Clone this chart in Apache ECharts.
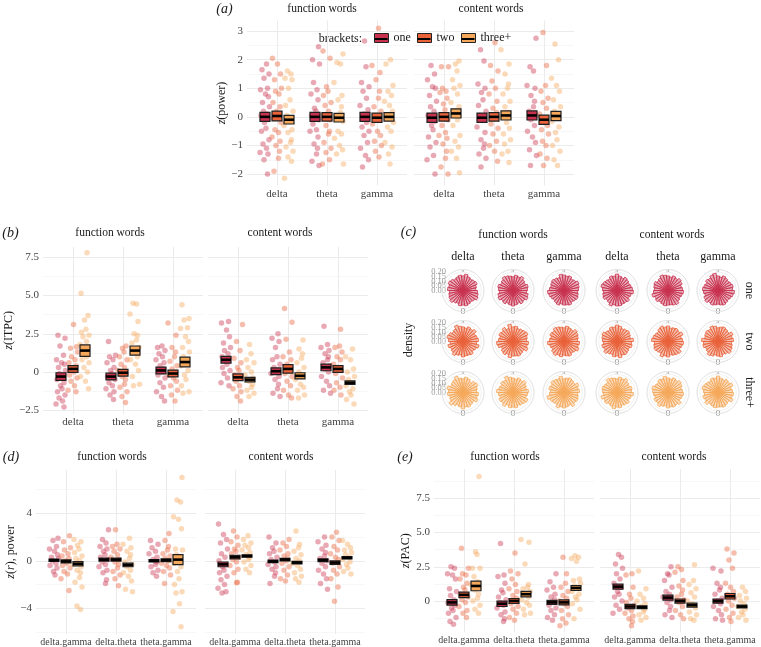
<!DOCTYPE html>
<html><head><meta charset="utf-8">
<script src="https://cdn.jsdelivr.net/npm/echarts@6/dist/echarts.min.js"></script>
<style>html,body{margin:0;padding:0;background:#fff}#c{width:761px;height:647px}</style>
</head><body><div id="c"></div>
<script>
// ---------- categories / labels ----------
const BRACKETS = ['one','two','three+'];
const BAND_CATS = ['delta','theta','gamma'];
const PAIR_CATS = ['delta.gamma','delta.theta','theta.gamma'];
const FACETS = ['function words','content words'];
const CAT_POS = [1,2,3];
const A_YTICKS=[-2,-1,0,1,2,3], A_YMINOR=[-1.5,-0.5,0.5,1.5,2.5];
const B_YTICKS=[-2.5,0,2.5,5,7.5], B_YMINOR=[-1.25,1.25,3.75,6.25];
const D_YTICKS=[-4,0,4], D_YMINOR=[-6,-2,2,6];
const E_YTICKS=[0,2.5,5,7.5], E_YMINOR=[-1.25,1.25,3.75,6.25,8.75];
const C_RTICKS=[0,0.05,0.1,0.15,0.2];

// ---------- (a) z(power) : per bracket, [delta, theta, gamma] ----------
const A_FUNC_ONE=[[1.85,1.65,1.5,1.35,1.0,0.95,0.8,0.7,0.5,0.35,0.2,0.1,0.05,-0.05,-0.2,-0.4,-0.5,-0.8,-0.95,-1.1,-1.25,-1.3,-1.5,-2.0],[2.45,2.0,1.85,1.2,0.95,0.8,0.6,0.3,0.2,0.05,-0.1,-0.25,-0.45,-0.5,-0.7,-0.95,-1.1,-1.3,-1.55,-1.7],[2.65,1.75,1.2,1.05,0.9,0.65,0.4,0.25,0.1,-0.05,-0.2,-0.35,-0.5,-0.65,-0.9,-1.1,-1.35,-1.5,-1.75]];
const A_FUNC_TWO=[[2.05,1.85,1.5,1.3,1.0,0.9,0.8,0.5,0.35,0.2,0.05,-0.05,-0.2,-0.45,-0.55,-0.7,-0.85,-1.0,-1.2,-1.45,-1.9],[2.3,2.05,1.05,0.9,0.75,0.5,0.4,0.2,0.05,-0.1,-0.3,-0.5,-0.6,-0.9,-1.1,-1.25,-1.5,-1.65],[3.1,1.8,1.55,1.3,0.9,0.65,0.35,0.2,0.05,-0.1,-0.25,-0.5,-0.65,-0.85,-1.0,-1.2,-1.4]];
const A_FUNC_THREE=[[1.6,1.5,1.35,1.3,1.0,0.6,0.4,0.2,0.05,-0.1,-0.3,-0.45,-0.55,-0.8,-0.9,-1.05,-1.2,-1.4,-1.55,-2.15],[2.2,1.9,1.85,1.2,0.75,0.6,0.35,0.15,0,-0.15,-0.5,-0.6,-0.75,-1.0,-1.15,-1.3,-1.65],[2.0,1.85,1.1,0.9,0.75,0.55,0.4,0.2,0,-0.2,-0.35,-0.5,-0.9,-1.05,-1.3,-1.65]];
const A_FUNC_MEAN=[[0,0,0],[0.03,0,-0.03],[-0.1,-0.03,0]];
const A_FUNC_SE=[[0.16,0.16,0.16],[0.17,0.15,0.16],[0.15,0.15,0.15]];
const A_CONT_ONE=[[1.8,1.5,1.3,1.05,1.0,0.75,0.55,0.35,0.2,0.05,-0.15,-0.3,-0.45,-0.7,-0.9,-1.05,-1.35,-1.5,-2.0],[2.35,1.95,1.15,1.0,0.85,0.6,0.4,0.2,0.05,-0.1,-0.35,-0.55,-0.8,-0.95,-1.1,-1.3,-1.45,-1.75],[2.75,1.75,1.6,1.1,1.0,0.75,0.55,0.35,0.2,0.05,-0.1,-0.3,-0.5,-0.7,-0.9,-1.15,-1.35,-1.7]];
const A_CONT_TWO=[[1.75,1.75,1.0,0.9,0.85,0.65,0.45,0.25,0.05,-0.1,-0.3,-0.55,-0.65,-0.75,-0.95,-1.2,-1.45,-1.75,-2.0],[2.6,1.8,1.6,1.25,1.0,0.8,0.55,0.3,0.15,-0.05,-0.25,-0.4,-0.6,-0.85,-1.0,-1.2,-1.55],[2.95,1.8,1.1,0.9,0.65,0.5,0.3,0.1,-0.1,-0.3,-0.45,-0.6,-0.85,-1.0,-1.3,-1.45,-1.7]];
const A_CONT_THREE=[[1.95,1.85,1.6,1.3,1.1,1.0,0.8,0.5,0.35,0.2,0.05,-0.1,-0.3,-0.65,-0.85,-1.05,-1.2,-1.45,-1.95],[2.35,1.85,1.5,1.15,1.0,0.8,0.55,0.35,0.15,0,-0.2,-0.4,-0.6,-0.8,-0.95,-1.2,-1.3,-1.6],[2.55,2.0,1.35,1.1,0.9,0.6,0.35,0.2,0.05,-0.15,-0.35,-0.55,-0.8,-1.0,-1.2,-1.5,-1.7]];
const A_CONT_MEAN=[[-0.03,-0.03,0.05],[0,0,-0.1],[0.12,0.05,0.03]];
const A_CONT_SE=[[0.16,0.16,0.16],[0.15,0.15,0.16],[0.16,0.16,0.16]];

// ---------- (b) z(ITPC) ----------
const B_FUNC_ONE=[[2.4,2.2,1.7,1.1,0.8,0.6,0.5,0.3,0.1,-0.1,-0.3,-0.5,-0.7,-0.9,-1.1,-1.3,-1.5,-1.7,-1.9,-2.1,-2.3],[2.0,1.1,1.0,0.8,0.6,0.3,0.1,-0.1,-0.3,-0.5,-0.7,-0.9,-1.1,-1.3,-1.5,-1.8],[1.7,1.6,1.4,1.2,1.0,0.8,0.6,0.4,0.2,0,-0.2,-0.4,-0.7,-1.0,-1.3,-1.6,-1.9]];
const B_FUNC_TWO=[[3.1,1.65,1.55,1.3,1.0,0.8,0.6,0.4,0.2,0,-0.2,-0.4,-0.6,-0.9,-1.2,-1.3],[1.7,1.55,1.3,1.0,0.8,0.5,0.3,0.1,-0.1,-0.3,-0.5,-0.8,-1.0,-1.3,-1.6,-2.0],[3.2,2.4,1.6,1.3,1.0,0.7,0.4,0.2,0,-0.2,-0.4,-0.6,-0.9,-1.2,-1.5,-1.9]];
const B_FUNC_THREE=[[7.8,5.15,3.7,3.4,2.8,2.6,2.4,2.3,2.0,1.8,1.6,1.4,1.2,1.0,0.8,0.6,0.3,0,-0.3,-0.6,-1.1],[4.5,4.45,3.8,3.3,2.5,2.4,2.1,1.9,1.6,1.3,1.0,0.8,0.5,0.1,-0.3,-0.8,-0.9],[4.4,3.5,3.4,2.9,2.85,2.3,2.0,1.6,1.3,1.0,0.7,0.4,0.1,-0.2,-0.5,-0.9,-1.3,-1.4]];
const B_FUNC_MEAN=[[-0.3,-0.3,0.1],[0.2,-0.05,-0.1],[1.4,1.4,0.65]];
const B_FUNC_SE=[[0.25,0.22,0.22],[0.22,0.22,0.22],[0.38,0.3,0.32]];
const B_CONT_ONE=[[3.3,3.2,2.75,2.3,1.9,1.6,1.4,1.2,1.0,0.9,0.7,0.5,0.3,0.1,-0.1,-0.4,-0.7,-0.9],[2.5,2.2,2.0,1.6,1.0,0.8,0.5,0.3,0.1,-0.1,-0.3,-0.5,-0.8,-1.1,-1.4,-1.6],[3.0,1.8,1.6,1.4,1.2,1.0,0.8,0.6,0.4,0.2,0,-0.3,-0.6,-0.9,-1.2,-1.4]];
const B_CONT_TWO=[[3.1,2.0,1.4,0.9,0.6,0.3,0.1,-0.2,-0.4,-0.6,-0.9,-1.1,-1.3,-1.6,-1.9],[4.15,3.25,2.15,1.3,1.0,0.8,0.5,0.3,0.1,-0.1,-0.3,-0.6,-0.9,-1.2,-1.5,-1.7],[2.8,1.7,1.6,1.3,1.0,0.8,0.5,0.3,0.1,-0.1,-0.4,-0.7,-1.0,-1.2,-1.5]];
const B_CONT_THREE=[[1.8,1.2,0.8,0.6,0.3,0,-0.2,-0.4,-0.6,-0.8,-1.0,-1.2,-1.4,-1.6],[2.1,1.5,1.2,0.9,0.6,0.3,0,-0.3,-0.5,-0.8,-1.0,-1.2,-1.5,-1.7],[1.5,1.0,0.8,0.2,0,-0.3,-0.5,-0.7,-0.9,-1.1,-1.3,-1.5,-1.8,-2.1]];
const B_CONT_MEAN=[[0.8,0.05,0.3],[-0.35,0.2,0.2],[-0.5,-0.25,-0.7]];
const B_CONT_SE=[[0.22,0.22,0.22],[0.22,0.28,0.22],[0.15,0.2,0.12]];

// ---------- (d) z(r), power ----------
const D_FUNC_ONE=[[1.9,1.7,1.2,1.0,0.8,0.5,0.3,0.2,0,-0.2,-0.4,-0.6,-0.9,-1.2],[2.6,1.8,1.5,1.2,1.0,0.8,0.5,0.3,0.1,-0.1,-0.3,-0.5,-0.8,-1.0,-1.6,-1.9],[1.7,1.4,1.1,0.8,0.6,0.3,0.1,-0.1,-0.3,-0.5,-0.8,-1.0,-1.3]];
const D_FUNC_TWO=[[2.1,1.6,1.1,0.9,0.6,0.4,0.2,0,-0.2,-0.4,-0.6,-0.9,-1.1,-1.5,-2.5],[2.6,1.4,1.2,1.0,0.8,0.5,0.3,0.1,-0.1,-0.3,-0.6,-0.9,-1.2,-1.5,-2.1],[2.3,1.7,1.2,0.9,0.6,0.4,0.2,0,-0.2,-0.4,-0.6,-0.9,-1.2,-1.9]];
const D_FUNC_THREE=[[1.8,1.6,1.3,1.0,0.7,0.4,0.2,0,-0.3,-0.5,-0.8,-1.0,-1.4,-1.8,-2.2,-3.8,-4.1],[1.9,1.4,1.1,0.8,0.5,0.2,-0.1,-0.3,-0.5,-0.8,-1.0,-1.3,-1.7,-2.4,-2.6],[7.0,5.1,4.95,3.7,3.5,2.7,1.0,0.9,0.5,0.2,-0.2,-0.5,-0.9,-1.5,-2.0,-2.6,-2.7,-3.6,-4.25,-5.55]];
const D_FUNC_MEAN=[[0.05,0.1,0.0],[-0.05,0.1,0.05],[-0.25,-0.35,0.1]];
const D_FUNC_SE=[[0.1,0.12,0.1],[0.12,0.12,0.12],[0.18,0.15,0.42]];
const D_CONT_ONE=[[3.1,2.2,1.8,1.5,1.0,0.6,0.3,0,-0.3,-0.5,-0.8,-1.0,-1.3,-1.6,-2.0,-2.3,-2.6,-2.7],[2.0,1.5,1.1,0.8,0.6,0.3,0.1,-0.1,-0.3,-0.5,-0.7,-1.0,-1.3,-1.9],[2.0,1.6,1.3,1.0,0.7,0.4,0.2,0,-0.2,-0.5,-0.8,-1.1,-1.5,-1.9,-2.4]];
const D_CONT_TWO=[[2.5,2.0,1.6,1.3,1.0,0.8,0.6,0.3,0.1,-0.1,-0.4,-0.7,-1.0,-1.8,-1.85],[1.8,1.5,1.2,0.9,0.6,0.4,0.2,0,-0.2,-0.5,-0.8,-1.2,-1.5,-1.7],[2.4,2.0,1.7,1.2,0.9,0.6,0.3,0.1,-0.2,-0.5,-0.8,-1.1,-1.5,-2.2,-3.4]];
const D_CONT_THREE=[[2.1,1.8,1.5,1.3,1.1,0.9,0.7,0.5,0.3,0.1,-0.1,-0.4,-0.7,-1.0],[2.5,1.4,1.1,0.8,0.5,0.2,0,-0.2,-0.4,-0.7,-1.0,-1.3,-1.5,-1.8],[1.7,1.4,1.1,0.9,0.7,0.5,0.3,0.1,-0.1,-0.3,-0.6,-0.9,-1.1]];
const D_CONT_MEAN=[[-0.3,-0.05,0.05],[0.3,0.1,-0.15],[0.4,-0.15,0.25]];
const D_CONT_SE=[[0.2,0.1,0.12],[0.15,0.1,0.15],[0.1,0.1,0.1]];

// ---------- (e) z(PAC) ----------
const E_FUNC_ONE=[[2.5,2.4,2.0,1.9,1.6,0.9,0.7,0.4,0.1,-0.1,-0.3,-0.5,-0.7,-0.9,-1.2,-1.5,-1.7],[4.2,1.9,1.8,1.3,0.8,0.6,0.3,0.1,-0.1,-0.3,-0.5,-0.8,-1.0,-1.3,-1.5],[2.0,1.4,1.0,0.8,0.5,0.3,0.1,-0.1,-0.3,-0.5,-0.7,-1.0,-1.2,-1.4]];
const E_FUNC_TWO=[[3.85,2.4,2.0,1.9,1.6,1.3,1.0,0.8,0.5,0.3,0.1,-0.1,-0.4,-0.7,-0.9,-1.2],[3.5,2.2,2.0,1.6,1.2,0.9,0.7,0.4,0.2,0,-0.2,-0.4,-0.6,-0.9,-1.2,-1.4],[3.2,2.0,1.3,1.0,0.7,0.4,0.2,0,-0.2,-0.4,-0.7,-1.0,-1.3,-1.6,-1.8]];
const E_FUNC_THREE=[[9.1,3.6,3.4,2.4,2.4,1.8,1.4,1.2,1.0,0.8,0.5,0.2,0,-0.3,-0.6,-0.9],[4.5,4.3,2.7,1.2,1.0,0.9,0.7,0.5,0.3,0.1,-0.1,-0.3,-0.6,-0.9,-1.0],[3.3,3.2,3.1,2.9,1.6,1.5,1.3,1.1,0.9,0.7,0.5,0.3,0.1,-0.2,-0.6,-1.3]];
const E_FUNC_MEAN=[[-0.1,-0.2,-0.1],[0.45,0.0,-0.1],[1.1,0.5,0.95]];
const E_FUNC_SE=[[0.2,0.2,0.15],[0.2,0.18,0.18],[0.35,0.2,0.18]];
const E_CONT_ONE=[[3.4,3.2,2.7,2.4,2.0,1.6,1.3,1.0,0.7,0.5,0.3,0,-0.3,-0.6,-0.9],[2.5,2.0,1.9,1.5,1.0,0.7,0.5,0.3,0.1,-0.1,-0.4,-0.7,-1.0,-1.2],[2.4,2.2,1.3,1.0,0.8,0.5,0.2,0,-0.2,-0.4,-0.7,-1.0,-1.3,-1.4]];
const E_CONT_TWO=[[2.0,1.9,1.0,0.5,0.2,-0.1,-0.3,-0.5,-0.7,-0.9,-1.1,-1.3,-1.5,-1.8],[2.5,2.3,2.1,1.5,1.1,0.8,0.5,0.3,0.1,-0.1,-0.4,-0.7,-1.0,-1.3],[3.8,3.5,3.0,2.4,1.3,1.0,0.7,0.5,0.2,0,-0.3,-0.6,-0.9,-1.2,-1.5]];
const E_CONT_THREE=[[2.2,0.9,0.5,0.2,0,-0.2,-0.4,-0.6,-0.8,-1.0,-1.2,-1.4],[2.65,1.5,1.2,0.9,0.6,0.3,0,-0.2,-0.5,-0.8,-1.0,-1.3,-1.4],[1.0,0.7,0.4,0.2,0,-0.2,-0.4,-0.6,-0.8,-1.0,-1.2,-1.4]];
const E_CONT_MEAN=[[1.05,0.25,0.0],[-0.4,0.0,0.35],[-0.45,-0.3,-0.4]];
const E_CONT_SE=[[0.18,0.18,0.15],[0.15,0.15,0.2],[0.1,0.15,0.1]];

// ---------- (c) phase density, 30 bins; [F-delta,F-theta,F-gamma,C-delta,C-theta,C-gamma] ----------
const C_ONE=[
[.16,.17,.15,.16,.18,.17,.16,.15,.17,.16,.18,.17,.15,.16,.17,.16,.18,.16,.15,.16,.17,.15,.14,.16,.17,.18,.16,.15,.16,.17],
[.17,.16,.15,.17,.16,.18,.17,.15,.16,.17,.15,.16,.18,.17,.16,.15,.17,.16,.18,.16,.15,.17,.16,.15,.17,.18,.16,.17,.15,.16],
[.16,.15,.17,.16,.15,.16,.17,.18,.16,.15,.16,.17,.16,.15,.18,.17,.16,.17,.15,.16,.18,.17,.16,.15,.16,.17,.16,.15,.17,.16],
[.17,.16,.18,.16,.15,.17,.16,.15,.16,.18,.17,.16,.15,.17,.16,.18,.16,.15,.17,.16,.15,.16,.17,.18,.16,.15,.17,.16,.16,.17],
[.16,.17,.16,.15,.17,.16,.18,.16,.15,.16,.17,.15,.16,.18,.17,.16,.15,.17,.16,.18,.17,.15,.16,.17,.16,.15,.16,.18,.17,.16],
[.15,.16,.17,.16,.18,.17,.15,.16,.17,.16,.15,.17,.16,.18,.19,.16,.15,.17,.16,.15,.16,.17,.16,.18,.17,.16,.15,.16,.17,.16]];
const C_TWO=[
[.17,.15,.16,.18,.16,.15,.17,.14,.16,.18,.17,.15,.16,.19,.17,.16,.15,.17,.16,.18,.15,.16,.17,.15,.18,.16,.15,.17,.16,.16],
[.16,.18,.15,.17,.16,.14,.17,.18,.16,.15,.17,.16,.18,.15,.19,.16,.17,.15,.16,.17,.18,.16,.15,.17,.16,.18,.15,.16,.17,.16],
[.15,.17,.16,.18,.17,.15,.16,.18,.16,.15,.17,.16,.18,.17,.16,.15,.17,.16,.15,.18,.17,.16,.15,.17,.16,.18,.16,.15,.17,.16],
[.16,.17,.15,.16,.18,.16,.17,.15,.16,.17,.18,.16,.15,.17,.16,.18,.17,.15,.16,.17,.16,.15,.18,.16,.17,.15,.16,.17,.16,.18],
[.17,.16,.18,.15,.16,.17,.16,.15,.18,.17,.16,.15,.17,.18,.16,.17,.15,.16,.17,.16,.18,.15,.16,.17,.16,.15,.18,.17,.16,.15],
[.16,.15,.17,.18,.16,.15,.17,.16,.18,.15,.16,.17,.16,.18,.17,.15,.16,.17,.16,.15,.18,.16,.17,.15,.16,.17,.18,.16,.15,.17]];
const C_THREE=[
[.18,.16,.15,.17,.19,.16,.15,.17,.16,.18,.15,.16,.17,.19,.16,.15,.17,.16,.14,.17,.18,.16,.15,.17,.16,.18,.15,.16,.17,.16],
[.16,.17,.15,.18,.16,.17,.15,.16,.18,.16,.15,.17,.16,.19,.17,.16,.15,.17,.16,.18,.16,.15,.17,.16,.15,.18,.17,.16,.15,.17],
[.17,.16,.18,.15,.16,.17,.19,.16,.15,.17,.16,.18,.17,.16,.18,.15,.16,.17,.16,.15,.18,.16,.17,.15,.16,.17,.16,.18,.15,.16],
[.16,.18,.16,.15,.17,.16,.18,.15,.16,.17,.16,.15,.18,.17,.16,.15,.17,.16,.18,.16,.15,.17,.16,.18,.16,.15,.17,.16,.15,.17],
[.17,.15,.16,.18,.16,.17,.15,.16,.17,.18,.16,.15,.17,.16,.18,.16,.15,.17,.16,.18,.17,.15,.16,.17,.16,.15,.18,.16,.17,.16],
[.16,.17,.16,.15,.18,.16,.17,.15,.16,.18,.17,.16,.15,.17,.16,.18,.16,.15,.17,.16,.18,.15,.16,.17,.16,.18,.15,.16,.17,.16]];

// ---------- styling / layout ----------
const FONT='"Liberation Serif","DejaVu Serif",serif';
const COLORS=['#C8324F','#E9623A','#F5A85A'];
const RGB=[[200,50,79],[233,98,58],[245,168,90]];
const DODGE=[-0.24,0,0.24];
const JITTER=[0.03,-0.06,0.08,-0.02,0.05,-0.09,0.01,0.07,-0.05,0.09,-0.03,0.04,-0.08,0.06,-0.01,0.02,-0.07,0.08,-0.04,0.03,-0.1,0.06,-0.02,0.05];
const HALF_W=0.1;
const GRID_COL='#ebebeb', MINOR_COL='#f4f4f4', TICK_COL='#444', TITLE_COL='#1a1a1a';
const R_MAX=0.23, R_PX=21;

const PANELS=[
 {cats:BAND_CATS, ymin:-2.4, ymax:3.37, major:A_YTICKS, minor:A_YMINOR, dec:false, top:20.5, height:165, lefts:[247,414], xfs:11,
  name:'{i|z}(power)', nameGap:15.5,
  facets:[[A_FUNC_ONE,A_FUNC_TWO,A_FUNC_THREE,A_FUNC_MEAN,A_FUNC_SE],[A_CONT_ONE,A_CONT_TWO,A_CONT_THREE,A_CONT_MEAN,A_CONT_SE]]},
 {cats:BAND_CATS, ymin:-2.75, ymax:8.2, major:B_YTICKS, minor:B_YMINOR, dec:true, top:246.7, height:167.3, lefts:[43,208], xfs:11,
  name:'{i|z}(ITPC)', nameGap:21,
  facets:[[B_FUNC_ONE,B_FUNC_TWO,B_FUNC_THREE,B_FUNC_MEAN,B_FUNC_SE],[B_CONT_ONE,B_CONT_TWO,B_CONT_THREE,B_CONT_MEAN,B_CONT_SE]]},
 {cats:PAIR_CATS, ymin:-6.15, ymax:7.63, major:D_YTICKS, minor:D_YMINOR, dec:false, top:470, height:164, lefts:[36,205], xfs:10,
  name:'{i|z}({i|r}), power', nameGap:16.5,
  facets:[[D_FUNC_ONE,D_FUNC_TWO,D_FUNC_THREE,D_FUNC_MEAN,D_FUNC_SE],[D_CONT_ONE,D_CONT_TWO,D_CONT_THREE,D_CONT_MEAN,D_CONT_SE]]},
 {cats:PAIR_CATS, ymin:-2.29, ymax:9.64, major:E_YTICKS, minor:E_YMINOR, dec:true, top:469, height:163.4, lefts:[434,600], xfs:10,
  name:'{i|z}(PAC)', nameGap:22.5,
  facets:[[E_FUNC_ONE,E_FUNC_TWO,E_FUNC_THREE,E_FUNC_MEAN,E_FUNC_SE],[E_CONT_ONE,E_CONT_TWO,E_CONT_THREE,E_CONT_MEAN,E_CONT_SE]]}
];

function fmtTick(dec){return v=>{const s=(v===0)?'0':(dec?v.toFixed(1):String(v));return s.replace('-','\u2212');};}
function crossbar(color){
  return function(params,api){
    const x=api.value(0), m=api.value(1), s=api.value(2);
    const a=api.coord([x-HALF_W,m+s]), b=api.coord([x+HALF_W,m-s]);
    const c1=api.coord([x-HALF_W,m]), c2=api.coord([x+HALF_W,m]);
    return {type:'group',children:[
      {type:'rect',shape:{x:a[0],y:a[1],width:b[0]-a[0],height:b[1]-a[1]},style:{fill:color,stroke:'#1f1f1f',lineWidth:1.2}},
      {type:'line',shape:{x1:c1[0],y1:c1[1],x2:c2[0],y2:c2[1]},style:{stroke:'#000',lineWidth:2.6}}
    ]};
  };
}

const grids=[],xAxes=[],yAxes=[],series=[];
PANELS.forEach((P,pi)=>{
  P.facets.forEach((F,fi)=>{
    const g=grids.length;
    grids.push({left:P.lefts[fi],top:P.top,width:160,height:P.height});
    xAxes.push({gridIndex:g,type:'value',min:0.4,max:3.6,axisLine:{show:false},
      axisTick:{show:false,customValues:CAT_POS},
      axisLabel:{customValues:CAT_POS,formatter:v=>P.cats[Math.round(v)-1],color:TICK_COL,fontSize:P.xfs,fontFamily:FONT,margin:3},
      splitLine:{show:true,lineStyle:{color:GRID_COL,width:1}}});
    const ya=yAxes.length;
    yAxes.push({gridIndex:g,type:'value',min:P.ymin,max:P.ymax,position:'left',axisLine:{show:false},
      axisTick:{show:false,customValues:P.major},
      axisLabel:{show:fi===0,customValues:P.major,formatter:fmtTick(P.dec),color:TICK_COL,fontSize:11,fontFamily:FONT,margin:4},
      splitLine:{show:true,lineStyle:{color:GRID_COL,width:1}},
      name:fi===0?P.name:'',nameLocation:'middle',nameGap:P.nameGap,
      nameTextStyle:{fontFamily:FONT,fontSize:12,color:TITLE_COL,rich:{i:{fontFamily:FONT,fontSize:12,fontStyle:'italic',color:TITLE_COL}}}});
    yAxes.push({gridIndex:g,type:'value',min:P.ymin,max:P.ymax,position:'right',axisLine:{show:false},
      axisTick:{show:false,customValues:P.minor},axisLabel:{show:false,customValues:P.minor},
      splitLine:{show:true,lineStyle:{color:MINOR_COL,width:0.7}},z:0});
    for(let b=0;b<3;b++){
      const pts=[];
      F[b].forEach((vals,c)=>vals.forEach((v,i)=>{
        pts.push([CAT_POS[c]+DODGE[b]+JITTER[(i+b*5+c*7+fi*3+pi)%JITTER.length],v]);
      }));
      series.push({type:'scatter',name:BRACKETS[b],xAxisIndex:g,yAxisIndex:ya,data:pts,symbolSize:5.5,
        itemStyle:{color:COLORS[b],opacity:0.42},silent:true,z:2});
    }
    for(let b=0;b<3;b++){
      series.push({type:'custom',xAxisIndex:g,yAxisIndex:ya,
        data:CAT_POS.map((x,c)=>[x+DODGE[b],F[3][b][c],F[4][b][c]]),
        renderItem:crossbar(COLORS[b]),silent:true,z:3});
    }
  });
});

// ---------- texts ----------
function T(text,x,y,o){return Object.assign({type:'text',x:x,y:y,silent:true,
  style:Object.assign({text:text,fill:TITLE_COL,fontFamily:FONT,fontSize:11.5,align:'center',verticalAlign:'middle'},(o&&o.style)||{})},
  (o&&o.rot!==undefined)?{rotation:o.rot}:{});}
const LET={style:{fontSize:14,fontStyle:'italic'}};
const graphics=[
  T('(a)',224.5,9,LET),T(FACETS[0],322,8.5),T(FACETS[1],491,8.5),
  T('(b)',10.5,233,LET),T(FACETS[0],110,233),T(FACETS[1],280,233),
  T('(c)',408.5,232,LET),T(FACETS[0],513,235),T(FACETS[1],672,235),
  T('(d)',11,457,LET),T(FACETS[0],112,457),T(FACETS[1],281,457),
  T('(e)',405,457,LET),T(FACETS[0],505,457),T(FACETS[1],674,457),
  T('density',409,340,{rot:Math.PI/2,style:{fontSize:12}}),
  T('brackets:',362,38.8,{style:{fontSize:12,align:'right'}})
];

// ---------- (c) polar roses ----------
const PX=[463,513,564,617,668,718], PY=[290.5,341.5,392.5];
const C_DATA=[C_ONE,C_TWO,C_THREE];
const BINS=C_ONE[0].map((_,i)=>'b'+i);
const polars=[],angleAxes=[],radiusAxes=[];
PY.forEach((y,r)=>{
  PX.forEach((x,c)=>{
    const k=polars.length;
    polars.push({center:[x,y],radius:R_PX});
    angleAxes.push({polarIndex:k,type:'category',data:BINS,startAngle:-84,clockwise:true,boundaryGap:true,
      axisLine:{show:true,lineStyle:{color:'#e6e6e6',width:1}},axisTick:{show:false},splitLine:{show:false},
      axisLabel:{show:true,interval:0,margin:-4,
        formatter:(v,i)=>i===0?'{z|0}':(i===BINS.length/2?'{p|\u03c0}':''),
        rich:{z:{fontSize:9,color:'#8c8c8c',fontFamily:FONT},p:{fontSize:6.5,color:'#8c8c8c',fontFamily:FONT}}}});
    radiusAxes.push({polarIndex:k,type:'value',min:0,max:R_MAX,interval:0.05,axisLine:{show:false},axisTick:{show:false},
      axisLabel:{show:false},splitLine:{show:true,lineStyle:{color:'#ececec',width:0.8}}});
    const rgb=RGB[r];
    series.push({type:'bar',coordinateSystem:'polar',polarIndex:k,data:C_DATA[r][c],barCategoryGap:'0%',silent:true,
      itemStyle:{color:`rgba(${rgb[0]},${rgb[1]},${rgb[2]},0.4)`,borderColor:COLORS[r],borderWidth:0.8}});
  });
  // radial axis tick labels (left of each row), overlapping as in the original
  C_RTICKS.forEach(v=>graphics.push(T(v.toFixed(2),446,y-v/R_MAX*R_PX,{style:{fontSize:8.5,fill:'#9a9a9a',align:'right'}})));
});
PX.forEach((x,c)=>graphics.push(T(BAND_CATS[c%3],x,256.5,{style:{fontSize:12}})));
PY.forEach((y,r)=>graphics.push(T(BRACKETS[r],749,y,{rot:-Math.PI/2,style:{fontSize:12}})));
const LEG_X=[374,417,461];
LEG_X.forEach(x=>graphics.push({type:'line',silent:true,z:100,shape:{x1:x+0.5,y1:39,x2:x+13.5,y2:39},style:{stroke:'#000',lineWidth:2}}));

const legends=BRACKETS.map((b,i)=>({data:[{name:b,itemStyle:{color:COLORS[i],borderColor:'#222',borderWidth:1,opacity:1}}],
  left:LEG_X[i],top:32,padding:0,itemWidth:14,itemHeight:9,icon:'rect',selectedMode:false,
  textStyle:{fontFamily:FONT,fontSize:12,color:TITLE_COL}}));

const chart=echarts.init(document.getElementById('c'),null,{renderer:'canvas'});
chart.setOption({
  animation:false,backgroundColor:'#fff',
  textStyle:{fontFamily:FONT},
  grid:grids,xAxis:xAxes,yAxis:yAxes,
  polar:polars,angleAxis:angleAxes,radiusAxis:radiusAxes,
  legend:legends,graphic:graphics,series:series
});
</script></body></html>
